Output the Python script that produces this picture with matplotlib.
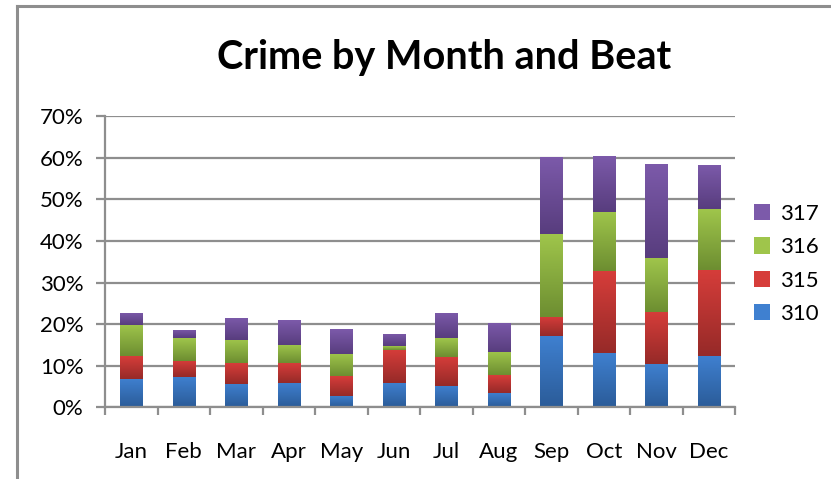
import matplotlib.pyplot as plt
import numpy as np
from matplotlib.colors import LinearSegmentedColormap
from matplotlib.ticker import FuncFormatter

months = ["Jan", "Feb", "Mar", "Apr", "May", "Jun",
          "Jul", "Aug", "Sep", "Oct", "Nov", "Dec"]
beat_310 = [6.9, 7.3, 5.7, 5.9, 2.8, 5.9, 5.2, 3.5, 17.2, 13.1, 10.5, 12.4]
beat_315 = [5.5, 3.9, 5.0, 4.8, 4.8, 8.0, 7.0, 4.3, 4.6, 19.6, 12.5, 20.7]
beat_316 = [7.5, 5.5, 5.6, 4.4, 5.3, 0.9, 4.5, 5.6, 19.8, 14.2, 12.8, 14.5]
beat_317 = [2.9, 2.0, 5.3, 6.0, 6.0, 2.9, 6.1, 7.0, 18.6, 13.5, 22.6, 10.6]

series = [("310", beat_310), ("315", beat_315), ("316", beat_316), ("317", beat_317)]
# (top colour, bottom colour) of each segment gradient
shades = {
    "310": ("#3f80d0", "#2b5c99"),
    "315": ("#d63d3a", "#962a28"),
    "316": ("#9fc54b", "#6d8e31"),
    "317": ("#7c5aaa", "#583d7e"),
}

plt.rcParams["font.family"] = ["Lato", "DejaVu Sans"]
grid_col = "#8e8e8e"

fig = plt.figure(figsize=(8.31, 4.79), dpi=100)
ax = fig.add_axes([0.1264, 0.1493, 0.7581, 0.6086])

x = np.arange(len(months))
bottom = np.zeros(len(months))
for name, vals in series:
    top_c, bot_c = shades[name]
    cmap = LinearSegmentedColormap.from_list(name, [bot_c, top_c])
    bars = ax.bar(x, vals, width=0.42, bottom=bottom, color=top_c,
                  label=name, zorder=3)
    for b in bars:
        x0, y0 = b.get_x(), b.get_y()
        w, h = b.get_width(), b.get_height()
        grad = np.linspace(0, 1, 64).reshape(-1, 1)
        im = ax.imshow(grad, cmap=cmap, aspect="auto", origin="lower",
                       extent=(x0, x0 + w, y0, y0 + h), zorder=3.5)
        im.set_clip_path(b)
        b.set_facecolor("none")
        b.set_edgecolor("none")
    bottom += np.array(vals)

ax.set_xlim(-0.5, len(months) - 0.5)
ax.set_ylim(0, 70)
ax.set_yticks(range(0, 71, 10))
ax.yaxis.set_major_formatter(FuncFormatter(lambda v, p: f"{int(v)}%"))
ax.grid(axis="y", color=grid_col, linewidth=1.6, zorder=1)

ax.set_xticks(x)
ax.set_xticklabels(months)
ax.set_xticks(np.arange(-0.5, len(months)), minor=True)
ax.tick_params(axis="x", which="major", length=0, pad=25, labelsize=16)
ax.tick_params(axis="x", which="minor", length=6, width=1.6, color=grid_col)
ax.tick_params(axis="y", length=6.5, width=1.6, color=grid_col, pad=9,
               labelsize=16)

for side in ["top", "right"]:
    ax.spines[side].set_visible(False)
for side in ["left", "bottom"]:
    ax.spines[side].set_color(grid_col)
    ax.spines[side].set_linewidth(1.6)
    ax.spines[side].set_zorder(4)

handles, labels = ax.get_legend_handles_labels()
for h, (name, _) in zip(handles, series):
    h.patches[0].set_facecolor(shades[name][0])
leg = fig.legend(handles[::-1], labels[::-1], loc="center left",
                 bbox_to_anchor=(0.883, 0.449), frameon=False,
                 fontsize=16, handlelength=0.75, handleheight=0.75,
                 handletextpad=0.45, labelspacing=0.6)
for p in leg.get_patches():
    p.set_edgecolor("none")

fig.text(0.534, 0.879, "Crime by Month and Beat", ha="center", va="center",
         fontsize=28.5, fontweight="bold")

# outer chart frame (left and top edges visible)
fig.add_artist(plt.Line2D([17 / 831, 17 / 831], [0, 1 - 6 / 479],
                          transform=fig.transFigure, color=grid_col, lw=2.2))
fig.add_artist(plt.Line2D([17 / 831, 1], [1 - 6 / 479, 1 - 6 / 479],
                          transform=fig.transFigure, color=grid_col, lw=2.2))

fig.savefig("out.png", dpi=100)
